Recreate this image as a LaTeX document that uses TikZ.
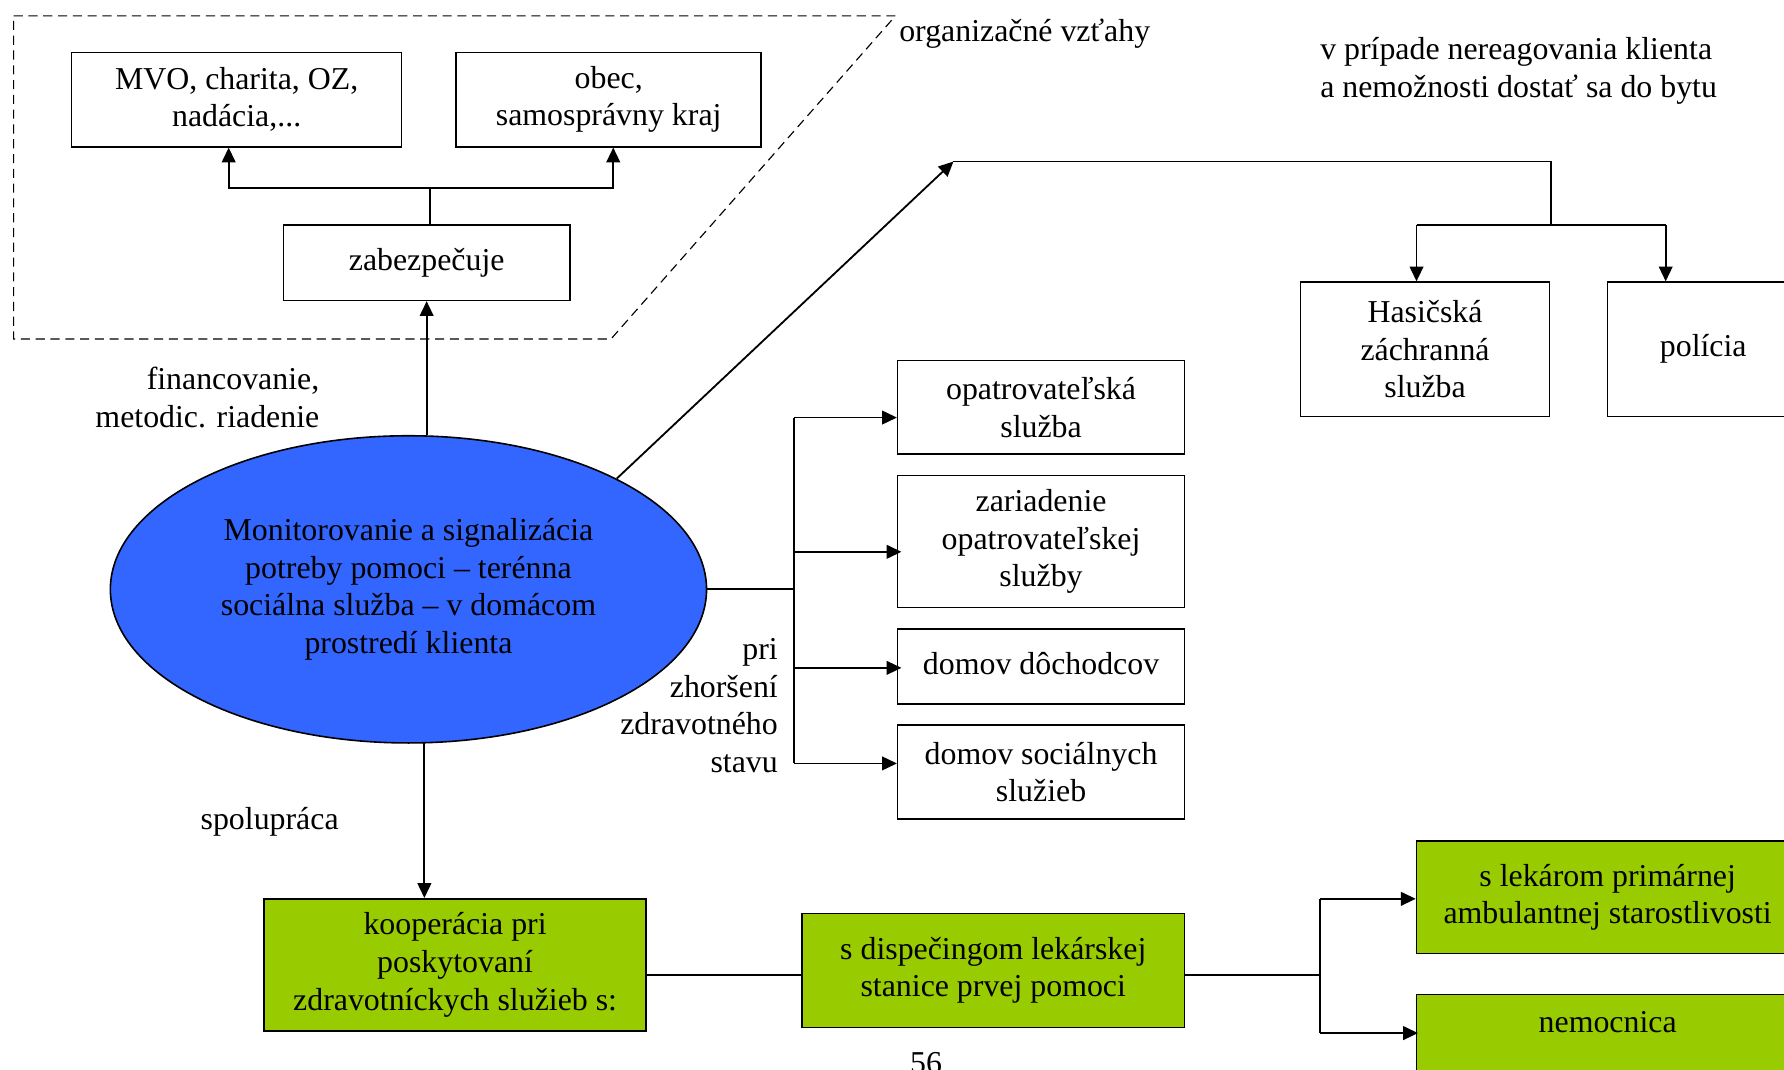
\documentclass[tikz,border=0pt]{standalone}
\usepackage{fontspec}
\setmainfont{Liberation Serif}
\usetikzlibrary{arrows.meta,shapes.geometric}
\definecolor{ellblue}{HTML}{3366FF}
\definecolor{boxgreen}{HTML}{99CC00}
\begin{document}
\begin{tikzpicture}[x=0.5pt,y=-0.5pt,
  font=\fontsize{14}{16.5}\selectfont,
  box/.style={draw, line width=0.7pt, inner sep=0pt, align=center},
  gbox/.style={box, fill=boxgreen},
  arr/.style={line width=0.8pt, -{Triangle[length=6.5pt,width=6pt]}},
  ln/.style={line width=0.8pt},
  lbl/.style={inner sep=0pt}]
\useasboundingbox (0,0) rectangle (1568,940);
\clip (0,0) rectangle (1568,940);
% dashed region
\draw[line width=0.5pt, dash pattern=on 4pt off 2.5pt] (12,14) -- (787,14) -- (537,298) -- (12,298) -- cycle;
% nodes
\node[box, minimum width=145pt, minimum height=41.5pt] (mvo) at (208,87.5) {MVO, charita, OZ,\\nadácia,...};
\node[box, minimum width=134pt, minimum height=41.5pt] (obec) at (535,87.5) {obec,\\samosprávny kraj};
\node[box, minimum width=126pt, minimum height=33pt] (zab) at (375,231) {zabezpečuje};
\node[ellipse, draw, fill=ellblue, line width=0.7pt, minimum width=262pt, minimum height=135pt, inner sep=0pt, align=center] (ell) at (359,518) {Monitorovanie a signalizácia\\potreby pomoci – terénna\\sociálna služba – v domácom\\prostredí klienta};
\node[box, minimum width=109.5pt, minimum height=59pt] (hasic) at (1252.5,307) {Hasičská\\záchranná\\služba};
\node[box, minimum width=84pt, minimum height=59pt] (pol) at (1497,307) {\raisebox{-1.5pt}{polícia}};
\node[box, minimum width=126pt, minimum height=41pt] (opatr) at (915,358) {opatrovateľská\\služba};
\node[box, minimum width=126pt, minimum height=58pt] (zar) at (915,476) {zariadenie\\opatrovateľskej\\služby};
\node[box, minimum width=126pt, minimum height=33pt] (dom) at (915,586) {\raisebox{3pt}{domov dôchodcov}};
\node[box, minimum width=126pt, minimum height=41.5pt] (soc) at (915,678.5) {domov sociálnych\\služieb};
\node[gbox, minimum width=168pt, minimum height=58pt] (koop) at (400,848) {kooperácia pri\\poskytovaní\\zdravotníckych služieb s:};
\node[gbox, minimum width=168pt, minimum height=50pt] (disp) at (873,853) {s dispečingom lekárskej\\stanice prvej pomoci};
\node[gbox, minimum width=168pt, minimum height=49.5pt] (lek) at (1413,788.5) {s lekárom primárnej\\ambulantnej starostlivosti};
\node[gbox, minimum width=168pt, minimum height=50pt,
  label={[anchor=north, inner sep=0pt, yshift=-7.5pt]north:nemocnica}] (nem) at (1413,924) {};
% free texts
\node[anchor=west, lbl] (org) at (790,30) {organizačné vzťahy};
\node[anchor=west, align=left, lbl] (vpr) at (1160,62.5) {v prípade nereagovania klienta\\a nemožnosti dostať sa do bytu};
\node[anchor=east, align=right, lbl] (fin) at (281,349.5) {financovanie,\\metodic. riadenie};
\node[anchor=east, align=right, lbl] (pri) at (684,620) {pri\\zhoršení\\zdravotného\\stavu};
\node[lbl] (spol) at (237,722) {spolupráca};
\node[lbl] (p56) at (814,934) {56};
% connectors: top
\coordinate (j1) at (378,165);
\draw[ln] (zab.north -| j1) -- (j1);
\draw[arr] (j1) -| ([xshift=-3.5pt]mvo.south);
\draw[arr] (j1) -| ([xshift=2pt]obec.south);
\draw[arr] (ell.north -| zab.south) -- (zab.south);
% to emergency services
\coordinate (c1) at (838,142);
\coordinate (c3) at (1363,198);
\coordinate (h1) at (1245,198);
\coordinate (h2) at (1464,198);
\draw[arr] (ell.28) -- (c1);
\draw[ln] (c1) -| (c3);
\draw[ln] (h1) -- (h2);
\draw[arr] (h1) -- (h1 |- hasic.north);
\draw[arr] (h2) -- (h2 |- pol.north);
% right side
\coordinate (rt) at (698,367);
\coordinate (r2) at (698,485);
\coordinate (r3) at (698,587);
\coordinate (rb) at (698,671);
\draw[ln] (rt) -- (rb);
\draw[ln] (ell.east) -- (ell.east -| rt);
\draw[arr] (rt) -- (rt -| opatr.west);
\draw[arr] (r2) -- ([xshift=2pt]r2 -| zar.west);
\draw[arr] (r3) -- ([xshift=2pt]r3 -| dom.west);
\draw[arr] (rb) -- (rb -| soc.west);
% bottom
\coordinate (k1) at (373,653);
\draw[arr] (k1) -- (k1 |- koop.north);
\draw[ln] ([yshift=-4.5pt]koop.east) -- ([yshift=-2pt]disp.west);
\coordinate (b1) at (1160,790);
\coordinate (b2) at (1160,908);
\draw[ln] ([yshift=-2pt]disp.east) -- ([yshift=-2pt]disp.east -| b1);
\draw[ln] (b1) -- (b2);
\draw[arr] (b1) -- (b1 -| lek.west);
\draw[arr] (b2) -- ([xshift=1pt]b2 -| nem.west);
\end{tikzpicture}
\end{document}
